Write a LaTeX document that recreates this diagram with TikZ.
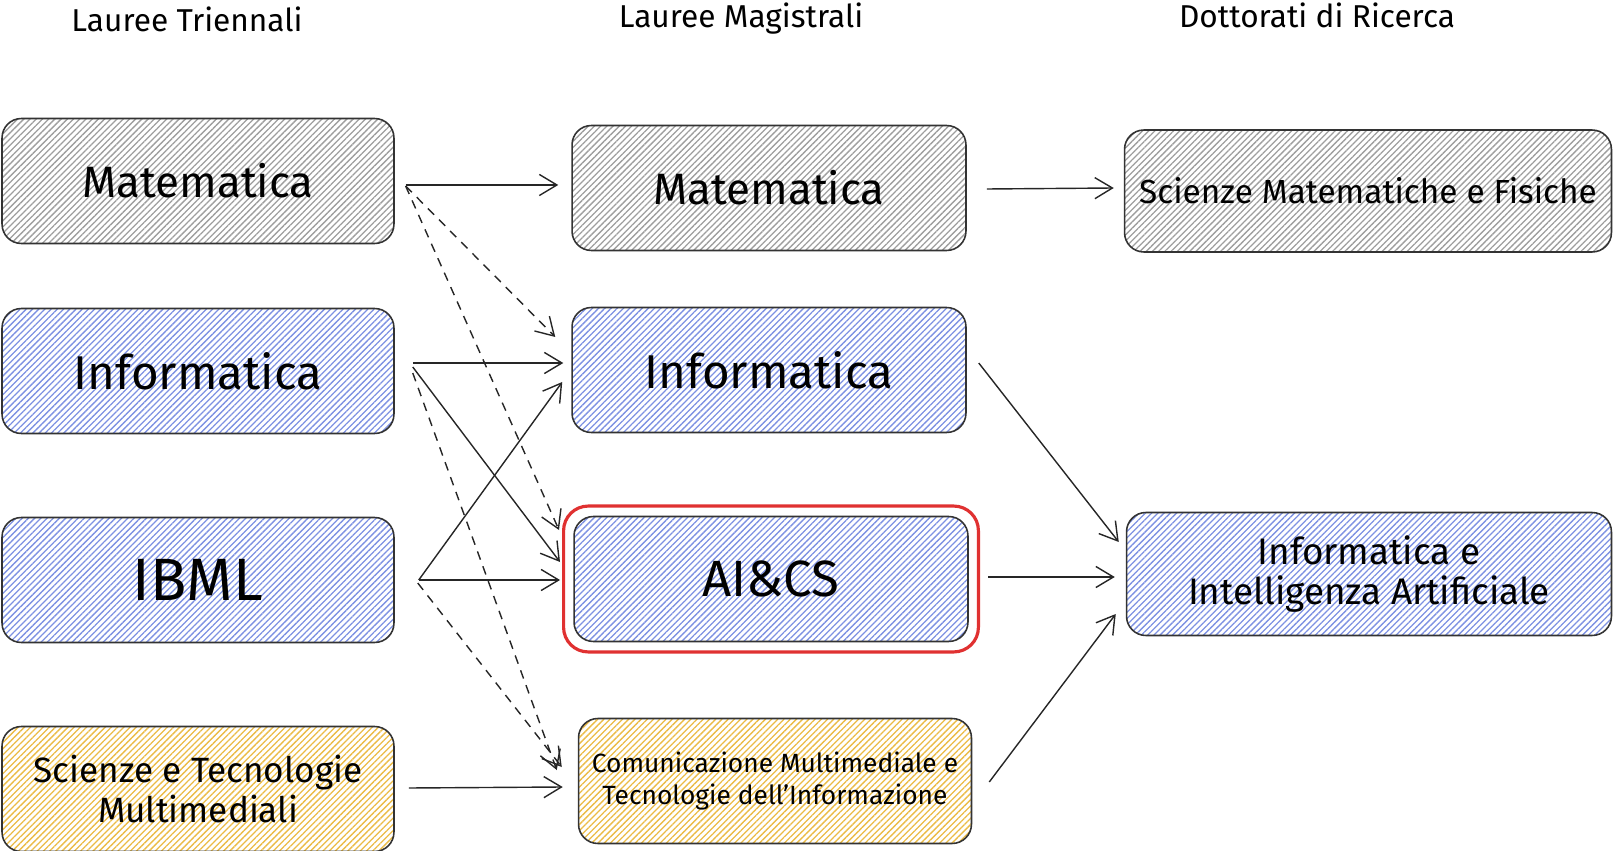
\documentclass[tikz,border=0pt]{standalone}
\usepackage{fontspec}
\setmainfont{Fira Sans}
\usetikzlibrary{calc,fit,arrows.meta,patterns.meta}

\definecolor{hatchgrey}{HTML}{9E9E9E}
\definecolor{hatchblue}{HTML}{7D91E2}
\definecolor{hatchyellow}{HTML}{EBBB45}
\definecolor{hlred}{HTML}{E03131}

\tikzset{
  box/.style={draw=black!80, line width=0.9pt, rounded corners=11pt, align=center,
    inner sep=0pt, minimum height=2.5cm},
  grigio/.style={box, pattern={Lines[angle=45,distance=2.5pt,line width=0.75pt]}, pattern color=hatchgrey},
  blu/.style={box, pattern={Lines[angle=45,distance=2.5pt,line width=0.75pt]}, pattern color=hatchblue},
  giallo/.style={box, pattern={Lines[angle=45,distance=2.5pt,line width=0.75pt]}, pattern color=hatchyellow},
  hlbox/.style={draw=hlred, line width=1.8pt, rounded corners=14pt, inner sep=5.5pt},
  titolo/.style={font=\fontsize{18}{22}\selectfont},
  arr/.style={draw=black!85, line width=0.8pt, -{Straight Barb[length=10pt,width=12pt,line width=0.8pt]}},
  tratt/.style={arr, dash pattern=on 5pt off 4pt},
}

\begin{document}
\begin{tikzpicture}[x=0.02cm, y=-0.02cm]
		%%%%% START %%%%%
		\useasboundingbox (0,0) rectangle (1614,851);
		
		\node[titolo] (hTri) at (187,19) {Lauree Triennali};
		\node[titolo] (hMag) at (741,19) {Lauree Magistrali};
		\node[titolo] (hDot) at (1317,15) {Dottorati di Ricerca};
		
		% triennali
		\node[grigio, minimum width=7.84cm, font=\fontsize{25}{30}\selectfont] (LMat) at (198,181) {Matematica};
		\node[blu, minimum width=7.84cm, font=\fontsize{27}{32}\selectfont] (LInf) at (198,371) {Informatica};
		\node[blu, minimum width=7.84cm, font=\fontsize{34}{40}\selectfont] (IBML) at (198,580) {IBML};
		\node[giallo, minimum width=7.84cm, font=\fontsize{20}{23}\selectfont] (LSTM) at (198,789) {Scienze e Tecnologie\\Multimediali};
		
		% magistrali
		\node[grigio, minimum width=7.88cm, font=\fontsize{25}{30}\selectfont] (MMat) at (769,188) {Matematica};
		\node[blu, minimum width=7.88cm, font=\fontsize{27}{32}\selectfont] (MInf) at (769,370) {Informatica};
		\node[blu, minimum width=7.88cm, font=\fontsize{29}{34}\selectfont] (AIC) at (771,579) {AI\&CS};
		\node[hlbox, fit=(AIC)] (hl) {};
		\node[giallo, minimum width=7.86cm, font=\fontsize{15}{18}\selectfont] (Com) at (775,781) {Comunicazione Multimediale e\\Tecnologie dell'Informazione};
		
		% dottorati
		\node[grigio, minimum width=9.74cm, minimum height=2.44cm, font=\fontsize{19}{23}\selectfont] (SMF) at (1368,191) {Scienze Matematiche e Fisiche};
		\node[blu, minimum width=9.7cm, minimum height=2.46cm, font=\fontsize{21}{23}\selectfont] (IIA) at (1369,574) {Informatica e\\Intelligenza Artificiale};
		
		% frecce triennali -> magistrali
		\draw[arr] ($(LMat.east)+(11,4)$) -- ($(MMat.west)+(-13,-3)$);
		\draw[tratt] ($(LMat.east)+(11,5)$) -- ($(MInf.west)+(-16,-33)$);
		\draw[tratt] ($(LMat.east)+(11,5)$) -- ($(hl.west)+(-3,-49)$);
		
		\draw[arr] ($(LInf.east)+(18,-8)$) -- ($(MInf.west)+(-8,-7)$);
		\draw[arr] ($(LInf.east)+(18,-4)$) -- ($(hl.west)+(-2,-17)$);
		\draw[tratt] ($(LInf.east)+(18,2)$) -- ($(Com.west)+(-21,-11)$);
		
		\draw[arr] ($(IBML.east)+(24,0)$) -- ($(MInf.west)+(-9,12)$);
		\draw[arr] ($(IBML.east)+(24,0)$) -- ($(hl.west)+(-2,1)$);
		\draw[tratt] ($(IBML.east)+(23,3)$) -- ($(Com.west)+(-16,-14)$);
		
		\draw[arr] ($(LSTM.east)+(14,-1)$) -- ($(Com.west)+(-15,6)$);
		
		% frecce magistrali -> dottorati
		\draw[arr] ($(MMat.east)+(20,1)$) -- ($(SMF.west)+(-10,-3)$);
		\draw[arr] ($(MInf.east)+(12,-7)$) -- ($(IIA.west)+(-7,-32)$);
		\draw[arr] ($(hl.east)+(8,-2)$) -- ($(IIA.west)+(-11,3)$);
		\draw[arr] ($(Com.east)+(17,1)$) -- ($(IIA.west)+(-10,40)$);
		
		%%%%% END %%%%%
	\end{tikzpicture}
\end{document}
